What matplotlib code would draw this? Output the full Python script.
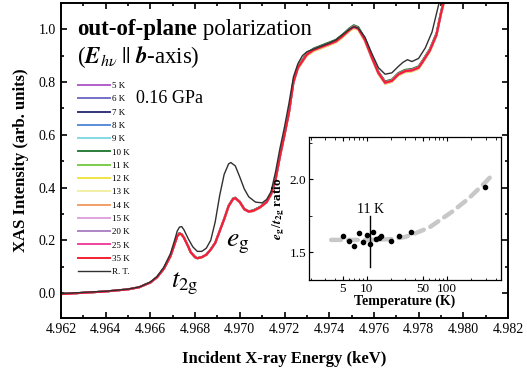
import numpy as np
import matplotlib
matplotlib.use('Agg')
import matplotlib.pyplot as plt
from matplotlib.ticker import MultipleLocator, FixedLocator, NullFormatter

plt.rcParams['font.family'] = ['Liberation Serif', 'DejaVu Serif']
plt.rcParams['mathtext.fontset'] = 'stix'

# spectra (keV, arb. units)
energy_lt = [4.9620, 4.9630, 4.9640, 4.9650, 4.9655, 4.9660, 4.9663, 4.9666, 4.9669, 4.9671,
             4.9672, 4.9673, 4.9674, 4.9675, 4.9677, 4.9678, 4.9680, 4.9681, 4.9683, 4.9685,
             4.9687, 4.9689, 4.9691, 4.9693, 4.9695, 4.9697, 4.9698, 4.9700, 4.9702, 4.9704,
             4.9706, 4.9709, 4.9712, 4.9714, 4.9716, 4.9718, 4.9720, 4.9722, 4.9724, 4.9726,
             4.9728, 4.9730, 4.9733, 4.9736, 4.9740, 4.9743, 4.9746, 4.9749, 4.9751, 4.9753,
             4.9756, 4.9759, 4.9762, 4.9765, 4.9768, 4.9771, 4.9774, 4.9777, 4.9780, 4.9782,
             4.9785, 4.9788, 4.9790, 4.9792]
xas_lt = [-0.004, 0.001, 0.006, 0.014, 0.022, 0.040, 0.060, 0.092, 0.140, 0.190,
          0.215, 0.226, 0.222, 0.210, 0.175, 0.155, 0.136, 0.132, 0.136, 0.145,
          0.165, 0.190, 0.235, 0.280, 0.330, 0.357, 0.360, 0.345, 0.318, 0.309,
          0.312, 0.325, 0.345, 0.375, 0.430, 0.520, 0.600, 0.685, 0.800, 0.855,
          0.880, 0.905, 0.922, 0.932, 0.945, 0.955, 0.975, 0.998, 1.010, 1.003,
          0.960, 0.895, 0.835, 0.798, 0.805, 0.830, 0.842, 0.845, 0.855, 0.880,
          0.920, 0.980, 1.060, 1.130]

energy_rt = [4.9620, 4.9640, 4.9650, 4.9655, 4.9660, 4.9663, 4.9666, 4.9669, 4.9671, 4.9672,
             4.9673, 4.9674, 4.9675, 4.9677, 4.9679, 4.9681, 4.9683, 4.9685, 4.9687, 4.9689,
             4.9691, 4.9693, 4.9695, 4.9696, 4.9698, 4.9700, 4.9702, 4.9704, 4.9707, 4.9710,
             4.9712, 4.9714, 4.9716, 4.9718, 4.9720, 4.9722, 4.9724, 4.9726, 4.9728, 4.9730,
             4.9733, 4.9736, 4.9740, 4.9743, 4.9746, 4.9749, 4.9751, 4.9753, 4.9756, 4.9759,
             4.9762, 4.9765, 4.9768, 4.9771, 4.9773, 4.9775, 4.9777, 4.9780, 4.9783, 4.9786,
             4.9788, 4.9790]
xas_rt = [-0.002, 0.007, 0.015, 0.023, 0.042, 0.063, 0.098, 0.150, 0.205, 0.235,
          0.250, 0.252, 0.240, 0.205, 0.175, 0.158, 0.158, 0.170, 0.200, 0.270,
          0.370, 0.450, 0.490, 0.495, 0.482, 0.440, 0.395, 0.365, 0.345, 0.342,
          0.355, 0.385, 0.460, 0.550, 0.630, 0.720, 0.820, 0.870, 0.900, 0.915,
          0.925, 0.935, 0.948, 0.960, 0.980, 1.000, 1.010, 1.005, 0.970, 0.910,
          0.855, 0.830, 0.835, 0.860, 0.875, 0.885, 0.878, 0.890, 0.930, 0.990,
          1.060, 1.130]

labels = ['5 K', '6 K', '7 K', '8 K', '9 K', '10 K', '11 K', '12 K', '13 K',
          '14 K', '15 K', '20 K', '25 K', '35 K', 'R. T.']
colors = ['#b060c8', '#7470c8', '#34347a', '#5a8cd8', '#86d8e4', '#2e7e3a', '#7ccc4c',
          '#f0e444', '#f2f0a4', '#f2a066', '#e0a4e0', '#b084c4', '#f044a0', '#f22030', '#303030']
# small amplitude differences between the low-T spectra
scale = [1.004, 0.998, 1.002, 0.996, 1.003, 1.006, 1.001, 0.994, 0.997,
         1.000, 0.999, 1.002, 0.998, 1.000]

# inset: e_g / t_2g ratio
temp = [5, 6, 7, 8, 9, 10, 11, 12, 13, 14, 15, 20, 25, 35, 295]
ratio = [1.61, 1.58, 1.54, 1.63, 1.57, 1.62, 1.56, 1.64, 1.59, 1.60, 1.61, 1.58, 1.61, 1.64, 1.95]
guide_t = [3.6, 10, 20, 30, 40, 60, 114, 185, 300, 380]
guide_r = [1.585, 1.585, 1.59, 1.605, 1.63, 1.67, 1.776, 1.868, 1.98, 2.04]

fig = plt.figure(figsize=(5.27, 3.76), dpi=100)
ax = fig.add_axes([0.1157, 0.154, 0.8483, 0.838])

for i in range(14):
    ax.plot(energy_lt, np.array(xas_lt) * scale[i], color=colors[i], lw=1.4, label=labels[i])
ax.plot(energy_rt, xas_rt, color=colors[14], lw=1.0, label=labels[14])

ax.set_xlim(4.962, 4.982)
ax.set_ylim(-0.095, 1.10)
ax.xaxis.set_major_locator(MultipleLocator(0.002))
ax.xaxis.set_minor_locator(MultipleLocator(0.001))
ax.yaxis.set_major_locator(MultipleLocator(0.2))
ax.yaxis.set_minor_locator(MultipleLocator(0.1))
ax.xaxis.set_major_formatter(plt.FormatStrFormatter('%.3f'))
ax.yaxis.set_major_formatter(plt.FormatStrFormatter('%.1f'))
ax.tick_params(which='both', direction='in', top=True, right=True, labelsize=10, width=1.2)
ax.tick_params(which='major', length=4)
ax.tick_params(which='minor', length=2.5)
for s in ax.spines.values():
    s.set_linewidth(1.4)
ax.set_xlabel('Incident X-ray Energy (keV)', fontsize=12, fontweight='bold', labelpad=11)
ax.set_ylabel('XAS Intensity (arb. units)', fontsize=12, fontweight='bold', labelpad=7)

t1 = ax.text(0.036, 0.898, 'out-of-plane', transform=ax.transAxes, fontsize=16.5,
             fontweight='bold', va='baseline')
ax.annotate(' polarization', xy=(1, 0), xycoords=t1, fontsize=16.5, va='bottom', ha='left')
ax.text(0.036, 0.81, r'($\mathbfit{E}_{h\nu}\;||\;\mathbfit{b}$-axis)', transform=ax.transAxes,
        fontsize=16.5, va='baseline')
ax.text(0.168, 0.683, '0.16 GPa', transform=ax.transAxes, fontsize=13, va='baseline')
ax.text(4.96692, 0.022, r'$t_{\rm 2g}$', fontsize=19, va='baseline')
ax.text(4.96940, 0.178, r'$e_{\rm g}$', fontsize=20, va='baseline')

leg = ax.legend(loc='upper left', bbox_to_anchor=(0.038, 0.75), frameon=False, fontsize=6.5,
                handlelength=3.6, handletextpad=0.2, labelspacing=0.55, borderpad=0, borderaxespad=0)

# inset
axi = fig.add_axes([0.586, 0.255, 0.365, 0.381])
axi.plot(guide_t, guide_r, color='#c8c8c8', lw=3.2, linestyle=(0, (2.2, 1.6)),
         dash_capstyle='round')
axi.plot(temp, ratio, 'o', color='black', ms=3)
axi.plot([11, 11], [1.40, 1.75], color='black', lw=1)
axi.text(11, 1.768, '11 K', ha='center', va='baseline', fontsize=10)
axi.set_xscale('log')
axi.set_xlim(1.9, 470)
axi.set_ylim(1.31, 2.29)
axi.xaxis.set_major_locator(FixedLocator([5, 10, 50, 100]))
axi.set_xticklabels(['5', '10', '50', '100'])
axi.xaxis.set_minor_locator(FixedLocator([2, 3, 4, 6, 7, 8, 9, 20, 30, 40, 60, 70, 80, 90,
                                          200, 300, 400]))
axi.xaxis.set_minor_formatter(NullFormatter())
axi.yaxis.set_major_locator(MultipleLocator(0.5))
axi.yaxis.set_minor_locator(MultipleLocator(0.25))
axi.yaxis.set_major_formatter(plt.FormatStrFormatter('%.1f'))
axi.tick_params(which='both', direction='in', top=True, labelsize=9.5, pad=2)
axi.tick_params(which='major', length=3)
axi.tick_params(which='minor', length=1.8)
for s in axi.spines.values():
    s.set_linewidth(0.9)
axi.set_xlabel('Temperature (K)', fontsize=10, fontweight='bold', labelpad=0)
axi.set_ylabel(r'$\mathbfit{e}_{\rm\mathbf{g}}\,/\mathbfit{t}_{\rm\mathbf{2g}}$ ratio', fontsize=9.5,
               fontweight='bold', labelpad=2)

fig.savefig('out.png', dpi=100)
